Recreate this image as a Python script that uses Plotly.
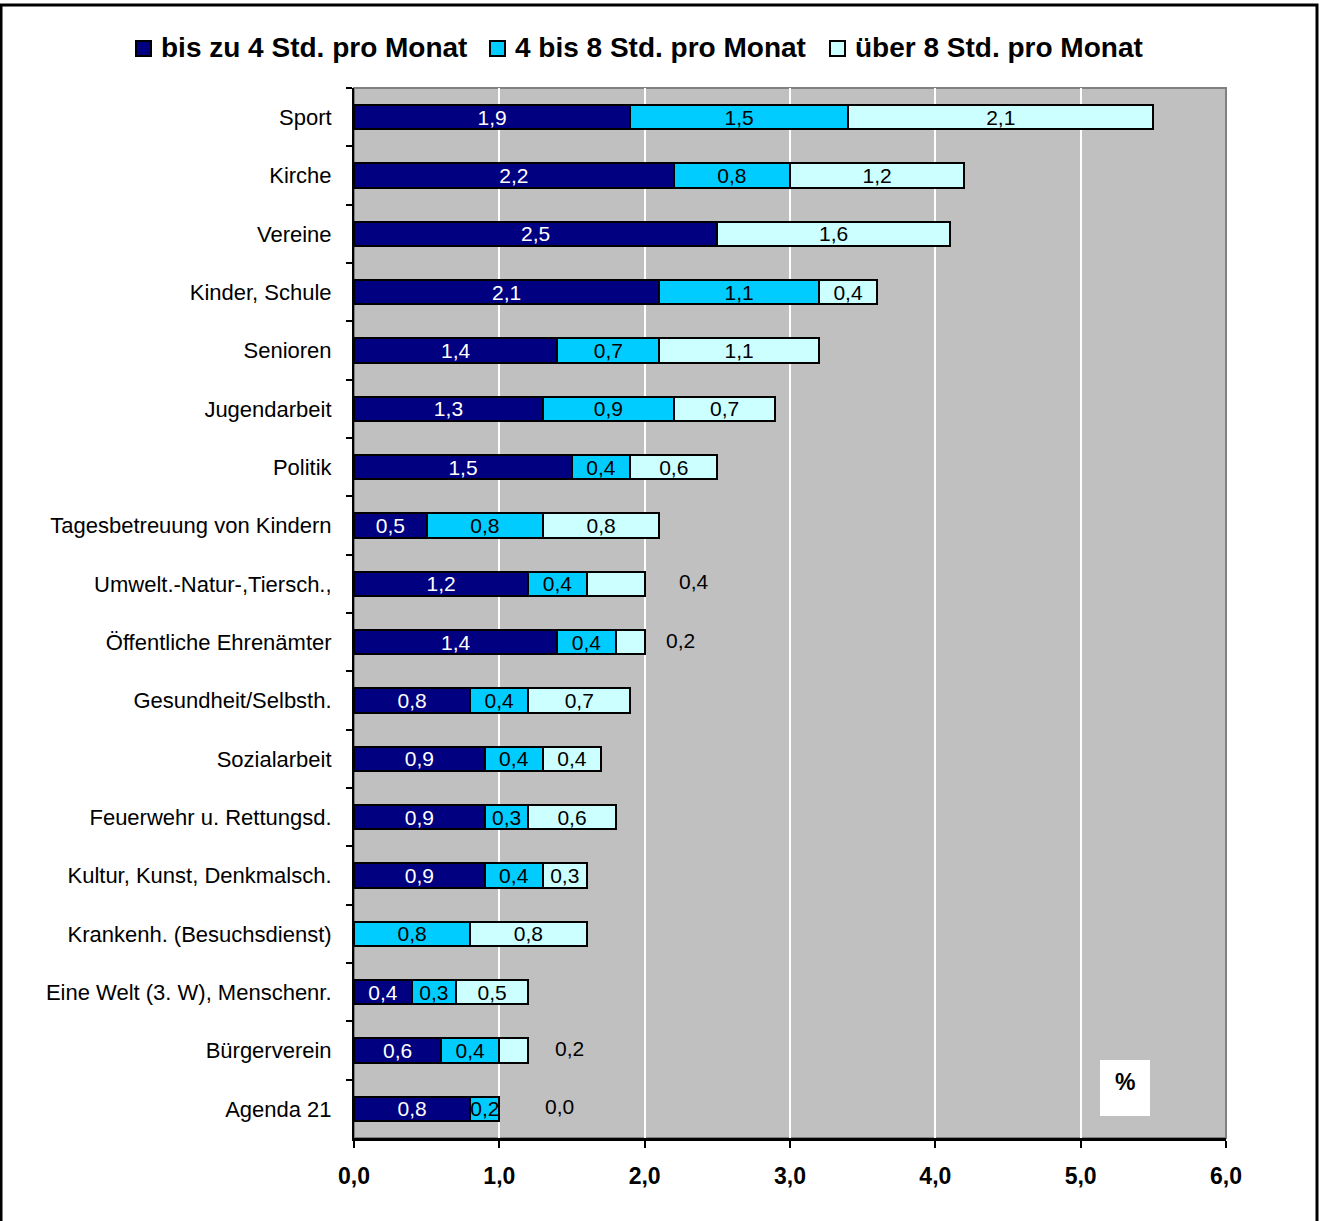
import plotly.graph_objects as go

# Ehrenamtliches Engagement nach Bereich und Zeitaufwand (Anteil in %)
categories = [
    "Sport", "Kirche", "Vereine", "Kinder, Schule", "Senioren", "Jugendarbeit",
    "Politik", "Tagesbetreuung von Kindern", "Umwelt.-Natur-,Tiersch.,",
    "Öffentliche Ehrenämter", "Gesundheit/Selbsth.", "Sozialarbeit",
    "Feuerwehr u. Rettungsd.", "Kultur, Kunst, Denkmalsch.",
    "Krankenh. (Besuchsdienst)", "Eine Welt (3. W), Menschenr.",
    "Bürgerverein", "Agenda 21",
]
bis_4 = [1.9, 2.2, 2.5, 2.1, 1.4, 1.3, 1.5, 0.5, 1.2, 1.4, 0.8, 0.9, 0.9, 0.9, None, 0.4, 0.6, 0.8]
von_4_bis_8 = [1.5, 0.8, None, 1.1, 0.7, 0.9, 0.4, 0.8, 0.4, 0.4, 0.4, 0.4, 0.3, 0.4, 0.8, 0.3, 0.4, 0.2]
ueber_8 = [2.1, 1.2, 1.6, 0.4, 1.1, 0.7, 0.6, 0.8, 0.4, 0.2, 0.7, 0.4, 0.6, 0.3, 0.8, 0.5, 0.2, 0.0]
series_names = ["bis zu 4 Std. pro Monat", "4 bis 8 Std. pro Monat", "über 8 Std. pro Monat"]
x_ticks = [0, 1, 2, 3, 4, 5, 6]

# rows whose last segment is labelled to the right of the bar
outside_rows = ["Umwelt.-Natur-,Tiersch.,", "Öffentliche Ehrenämter", "Bürgerverein", "Agenda 21"]
outside_shift = {"Umwelt.-Natur-,Tiersch.,": 32, "Öffentliche Ehrenämter": 19,
                 "Bürgerverein": 25, "Agenda 21": 44}

FONT = "Liberation Sans, Arial, sans-serif"
colors = ["#000080", "#00CCFF", "#CCFFFF"]
text_colors = ["white", "black", "black"]

# plot-area geometry in pixels
L, T, W, H = 354, 88, 872, 1050
FIG_W, FIG_H = 1321, 1221


def px_x(px):
    return (px - L) / W


def px_y(py):
    return (T + H - py) / H


def fmt(v):
    return "" if v is None else f"{v:.1f}".replace(".", ",")


fig = go.Figure()
for idx, (name, vals) in enumerate(zip(series_names, [bis_4, von_4_bis_8, ueber_8])):
    texts = []
    for cat, v in zip(categories, vals):
        if idx == 2 and cat in outside_rows:
            texts.append("")
        else:
            texts.append(fmt(v))
    fig.add_trace(go.Bar(
        y=categories, x=vals, orientation="h", name=name, showlegend=False,
        marker=dict(color=colors[idx], line=dict(color="black", width=2)),
        text=texts, textposition="inside", insidetextanchor="middle",
        textangle=0, constraintext="none",
        textfont=dict(family=FONT, size=21, color=text_colors[idx]),
        width=0.42,
    ))

# labels placed beside the bar end
for cat in outside_rows:
    i = categories.index(cat)
    total = sum(v for v in (bis_4[i], von_4_bis_8[i], ueber_8[i]) if v is not None)
    fig.add_annotation(x=total, y=cat, text=fmt(ueber_8[i]), showarrow=False,
                       xanchor="left", xshift=outside_shift[cat], yshift=2,
                       font=dict(family=FONT, size=21, color="black"))

# legend row above the plot: square swatch + bold label
legend_left = [136, 490, 830]
for name, color, x0 in zip(series_names, colors, legend_left):
    fig.add_shape(type="rect", xref="paper", yref="paper",
                  x0=px_x(x0), x1=px_x(x0 + 15), y0=px_y(56), y1=px_y(41),
                  fillcolor=color, line=dict(color="black", width=2))
    fig.add_annotation(xref="paper", yref="paper", x=px_x(x0 + 23), y=px_y(47),
                       xanchor="left", yanchor="middle", showarrow=False,
                       text=f"<b>{name}</b>",
                       font=dict(family=FONT, size=28, color="black"))

# "%" box in the lower right corner of the plot area
fig.add_shape(type="rect", xref="paper", yref="paper",
              x0=px_x(1100), x1=px_x(1150), y0=px_y(1116), y1=px_y(1060),
              fillcolor="white", line=dict(width=0), layer="above")
fig.add_annotation(xref="paper", yref="paper", x=px_x(1125), y=px_y(1082),
                   xanchor="center", yanchor="middle", text="<b>%</b>",
                   showarrow=False, font=dict(family=FONT, size=23, color="black"))

# thin grey border of the plot area
fig.add_shape(type="rect", xref="paper", yref="paper", x0=0, x1=1, y0=0, y1=1,
              line=dict(color="#808080", width=2), layer="below")

# outer frame of the figure
fig.add_shape(type="rect", xref="paper", yref="paper",
              x0=px_x(1), x1=px_x(1317), y0=px_y(1235), y1=px_y(5),
              line=dict(color="black", width=3), fillcolor="rgba(0,0,0,0)")

fig.update_layout(
    width=FIG_W, height=FIG_H,
    margin=dict(l=L, r=FIG_W - L - W, t=T, b=FIG_H - T - H),
    barmode="stack", bargap=0.58,
    paper_bgcolor="white", plot_bgcolor="#C0C0C0",
    font=dict(family=FONT, size=21, color="black"),
    showlegend=False,
    xaxis=dict(range=[0, 6], tickvals=x_ticks,
               ticktext=[f"<b>{v:.1f}</b>".replace(".", ",") for v in x_ticks],
               showgrid=True, gridcolor="white", gridwidth=2,
               zeroline=False, showline=True, linecolor="black", linewidth=3,
               ticks="outside", ticklen=7, tickwidth=2, tickcolor="black",
               ticklabelstandoff=8,
               tickfont=dict(family=FONT, size=23, color="black")),
    yaxis=dict(autorange="reversed", showgrid=False, zeroline=False,
               showline=True, linecolor="black", linewidth=2,
               ticks="outside", tickson="boundaries", ticklen=6, tickwidth=2,
               tickcolor="black", ticklabelstandoff=16,
               tickfont=dict(family=FONT, size=22, color="black")),
)

fig.write_html("out.html")
